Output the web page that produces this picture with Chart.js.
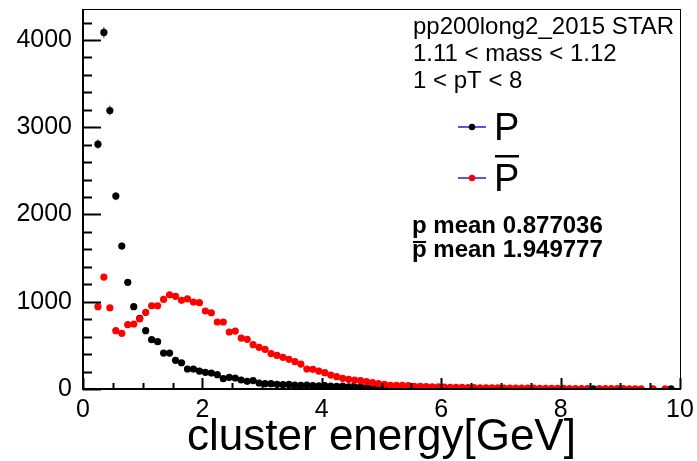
<!DOCTYPE html>
<html>
<head>
<meta charset="utf-8">
<script src="https://cdn.jsdelivr.net/npm/chart.js@4.4.1/dist/chart.umd.min.js"></script>
<style>
  html, body { margin: 0; padding: 0; background: #fff; }
</style>
</head>
<body>
<canvas id="energyChart" width="697" height="461"></canvas>
<script>
// bin centres of the 0.1 GeV bins, from the first filled bin
const binCenters = [
  0.25, 0.35, 0.45, 0.55, 0.65, 0.75, 0.85, 0.95, 1.05, 1.15,
  1.25, 1.35, 1.45, 1.55, 1.65, 1.75, 1.85, 1.95, 2.05, 2.15,
  2.25, 2.35, 2.45, 2.55, 2.65, 2.75, 2.85, 2.95, 3.05, 3.15,
  3.25, 3.35, 3.45, 3.55, 3.65, 3.75, 3.85, 3.95, 4.05, 4.15,
  4.25, 4.35, 4.45, 4.55, 4.65, 4.75, 4.85, 4.95, 5.05, 5.15,
  5.25, 5.35, 5.45, 5.55, 5.65, 5.75, 5.85, 5.95, 6.05, 6.15,
  6.25, 6.35, 6.45, 6.55, 6.65, 6.75, 6.85, 6.95, 7.05, 7.15,
  7.25, 7.35, 7.45, 7.55, 7.65, 7.75, 7.85, 7.95, 8.05, 8.15,
  8.25, 8.35, 8.45, 8.55, 8.65, 8.75, 8.85, 8.95, 9.05, 9.15,
  9.25, 9.35, 9.45, 9.55, 9.65, 9.75, 9.85, 9.95
];

// P (black)
const protonCounts = [
  2806, 4086, 3192, 2211, 1638, 1222, 943, 810, 668, 565,
  542, 412, 412, 329, 301, 229, 229, 206, 191, 183,
  164, 118, 134, 126, 103, 88, 96, 69, 61, 61,
  54, 50, 52, 45, 42, 45, 38, 36, 40, 33,
  30, 32, 26, 24, 26, 20, 18, 20, 15, 14,
  12, 13, 10, 9, 8, 9, 7, 6, 6, 5,
  4, 4, 3, null, null, null, null, null, null, null,
  null, null, null, null, null, null, null, null, null, null,
  null, null, null, 3, null, null, null, null, null, null,
  null, null, null, null, null, null, 3, null
];

// P-bar (red)
const antiProtonCounts = [
  943, 1283, 931, 668, 638, 737, 745, 802, 878, 954,
  954, 1027, 1080, 1062, 1016, 1034, 997, 989, 894, 874,
  768, 768, 653, 664, 584, 569, 508, 478, 455, 406,
  385, 363, 340, 313, 286, 229, 225, 206, 187, 160,
  141, 122, 111, 103, 95, 84, 72, 61, 54, 42,
  42, 42, 38, 31, 31, 28, 26, 24, 22, 20,
  19, 18, 16, 15, 14, 14, 13, 12, 11, 11,
  10, 10, 9, 9, 8, 8, 7, 7, 7, 6,
  6, 6, 5, null, 5, 4, 4, 4, 4, 3,
  3, 3, null, 2, null, 2, null, null
];

const xTickValues = [0, 2, 4, 6, 8, 10];
const yTickValues = [0, 1000, 2000, 3000, 4000];
const infoLines = ["pp200long2_2015 STAR", "1.11 < mass < 1.12", "1 < pT < 8"];
const legendLabels = ["P", "P"];        // second one gets an overline
const meanLines = ["p mean 0.877036", "p mean 1.949777"];

const FONT = "'Liberation Sans', Arial, Helvetica, sans-serif";
const ERR_COLOR = "#1f1fd0";
const X_MAX = 10;
const Y_MAX = 4355;
const MARKER_R = 3.6;

function toPoints(counts) {
  return binCenters.map((x, i) => ({ x: x, y: counts[i] }));
}

function fixScalePadding(scale) {
  scale.paddingTop = 0;
  scale.paddingBottom = 0;
  scale.paddingLeft = 0;
  scale.paddingRight = 0;
}

// ROOT-ish decorations: error bars, inward ticks, frame, text box
const rootStyle = {
  id: "rootStyle",
  beforeDatasetDraw(chart, args) {
    const { ctx } = chart;
    const ys = chart.scales.y;
    const xs = chart.scales.x;
    const ds = chart.data.datasets[args.index];
    ctx.save();
    ctx.strokeStyle = ERR_COLOR;
    ctx.lineWidth = 1;
    ds.data.forEach((p) => {
      if (p.y == null) return;
      const err = Math.sqrt(p.y);
      const px = xs.getPixelForValue(p.x);
      const py = ys.getPixelForValue(p.y);
      ctx.beginPath();
      ctx.moveTo(px, ys.getPixelForValue(p.y - err));
      ctx.lineTo(px, ys.getPixelForValue(p.y + err));
      ctx.moveTo(xs.getPixelForValue(p.x - 0.05), py);
      ctx.lineTo(xs.getPixelForValue(p.x + 0.05), py);
      ctx.stroke();
    });
    ctx.restore();
  },
  afterDraw(chart) {
    const { ctx, chartArea: a } = chart;
    const xs = chart.scales.x;
    const ys = chart.scales.y;
    ctx.save();

    // frame
    ctx.strokeStyle = "#000";
    ctx.lineWidth = 1;
    ctx.strokeRect(a.left + 0.5, a.top + 0.5, a.right - a.left, a.bottom - a.top);
    ctx.lineWidth = 2;
    ctx.beginPath();
    ctx.moveTo(a.left, a.top);
    ctx.lineTo(a.left, a.bottom);
    ctx.lineTo(a.right, a.bottom);
    ctx.stroke();

    // y ticks, every 200, long every 1000
    ctx.lineWidth = 2;
    ctx.beginPath();
    for (let v = 0; v <= Y_MAX; v += 200) {
      const y = Math.round(ys.getPixelForValue(v)) + 0.5;
      const len = v % 1000 === 0 ? 18 : 9;
      ctx.moveTo(a.left, y);
      ctx.lineTo(a.left + len, y);
    }
    // x ticks, every 0.5, long every 2
    for (let v = 0; v <= X_MAX + 1e-9; v += 0.5) {
      const x = Math.round(xs.getPixelForValue(v)) + 0.5;
      const len = Math.abs(v / 2 - Math.round(v / 2)) < 1e-9 ? 11 : 6;
      ctx.moveTo(x, a.bottom);
      ctx.lineTo(x, a.bottom - len);
    }
    ctx.stroke();

    // info text
    ctx.fillStyle = "#000";
    ctx.textAlign = "left";
    ctx.textBaseline = "alphabetic";
    ctx.font = "24px " + FONT;
    infoLines.forEach((t, i) => ctx.fillText(t, 413, 34 + i * 27));

    // legend
    const legendRows = [
      { y: 127, color: "#000000" },
      { y: 178, color: "#ff0000" }
    ];
    legendRows.forEach((row, i) => {
      ctx.strokeStyle = ERR_COLOR;
      ctx.lineWidth = 1.5;
      ctx.beginPath();
      ctx.moveTo(458, row.y);
      ctx.lineTo(486, row.y);
      ctx.stroke();
      ctx.fillStyle = row.color;
      ctx.beginPath();
      ctx.arc(472, row.y, 3.2, 0, Math.PI * 2);
      ctx.fill();
      ctx.fillStyle = "#000";
      ctx.font = "38px " + FONT;
      ctx.fillText(legendLabels[i], 494, row.y + 13);
    });
    // overline for P-bar
    ctx.fillRect(495, 155, 24, 2.5);

    // means
    ctx.font = "bold 24px " + FONT;
    meanLines.forEach((t, i) => ctx.fillText(t, 412, 233 + i * 24));
    ctx.fillRect(413, 241, 13, 2);

    ctx.restore();
  }
};

new Chart(document.getElementById("energyChart"), {
  type: "scatter",
  data: {
    datasets: [
      {
        label: "Pbar",
        data: toPoints(antiProtonCounts),
        order: 0,
        pointRadius: MARKER_R,
        pointHoverRadius: MARKER_R,
        pointBorderWidth: 0,
        backgroundColor: "#ff0000",
        borderColor: "#ff0000",
        showLine: false
      },
      {
        label: "P",
        data: toPoints(protonCounts),
        order: 1,
        pointRadius: MARKER_R,
        pointHoverRadius: MARKER_R,
        pointBorderWidth: 0,
        backgroundColor: "#000000",
        borderColor: "#000000",
        showLine: false
      }
    ]
  },
  options: {
    responsive: false,
    animation: false,
    devicePixelRatio: 1,
    layout: { padding: { top: 9, right: 17, left: 0, bottom: 0 } },
    plugins: {
      legend: { display: false },
      tooltip: { enabled: false }
    },
    scales: {
      x: {
        type: "linear",
        position: "bottom",
        min: 0,
        max: X_MAX,
        grid: { display: false, drawTicks: false },
        border: { display: false },
        afterBuildTicks: (s) => { s.ticks = xTickValues.map((v) => ({ value: v })); },
        ticks: {
          color: "#000",
          font: { family: FONT, size: 25 },
          padding: 6,
          maxRotation: 0,
          autoSkip: false,
          callback: (v) => String(v)
        },
        title: {
          display: true,
          text: "cluster energy[GeV]",
          color: "#000",
          font: { family: FONT, size: 44, lineHeight: 1 },
          padding: { top: 0, bottom: 1 }
        },
        afterFit: (s) => { s.height = 72; fixScalePadding(s); }
      },
      y: {
        type: "linear",
        min: 0,
        max: Y_MAX,
        grid: { display: false, drawTicks: false },
        border: { display: false },
        afterBuildTicks: (s) => { s.ticks = yTickValues.map((v) => ({ value: v })); },
        ticks: {
          color: "#000",
          font: { family: FONT, size: 25 },
          padding: 11,
          autoSkip: false,
          callback: (v) => String(v)
        },
        afterFit: (s) => { s.width = 83; fixScalePadding(s); }
      }
    }
  },
  plugins: [rootStyle]
});
</script>
</body>
</html>
